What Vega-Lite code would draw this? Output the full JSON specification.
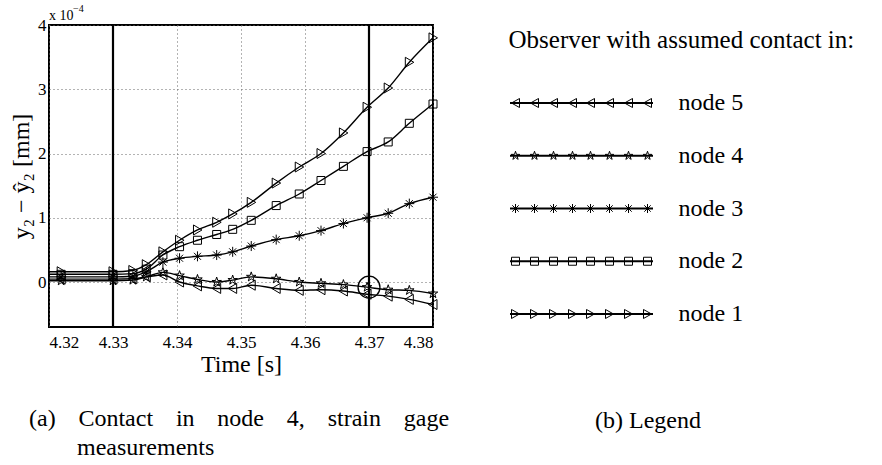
{
  "$schema": "https://vega.github.io/schema/vega-lite/v6.json",
  "background": "white",
  "padding": {"left": 8, "top": 3, "right": 0, "bottom": 0},
  "config": {
    "font": "Liberation Serif",
    "title": {"fontWeight": "normal", "color": "black"},
    "axis": {"labelColor": "black", "titleColor": "black", "titleFontWeight": "normal", "labelFont": "Liberation Serif", "titleFont": "Liberation Serif"}
  },
  "datasets": {
    "series": [
      {"node": "node 1", "t": 4.32, "v": 0.16}, {"node": "node 1", "t": 4.3219, "v": 0.16}, {"node": "node 1", "t": 4.33, "v": 0.16}, {"node": "node 1", "t": 4.3331, "v": 0.18}, {"node": "node 1", "t": 4.3352, "v": 0.27}, {"node": "node 1", "t": 4.3378, "v": 0.47}, {"node": "node 1", "t": 4.3404, "v": 0.65}, {"node": "node 1", "t": 4.3432, "v": 0.81}, {"node": "node 1", "t": 4.3462, "v": 0.93}, {"node": "node 1", "t": 4.3487, "v": 1.06}, {"node": "node 1", "t": 4.3516, "v": 1.24}, {"node": "node 1", "t": 4.3555, "v": 1.54}, {"node": "node 1", "t": 4.3591, "v": 1.79}, {"node": "node 1", "t": 4.3625, "v": 2.0}, {"node": "node 1", "t": 4.366, "v": 2.32}, {"node": "node 1", "t": 4.3697, "v": 2.72}, {"node": "node 1", "t": 4.373, "v": 3.02}, {"node": "node 1", "t": 4.3763, "v": 3.42}, {"node": "node 1", "t": 4.38, "v": 3.8},
      {"node": "node 2", "t": 4.32, "v": 0.12}, {"node": "node 2", "t": 4.3219, "v": 0.12}, {"node": "node 2", "t": 4.33, "v": 0.12}, {"node": "node 2", "t": 4.3331, "v": 0.13}, {"node": "node 2", "t": 4.3352, "v": 0.2}, {"node": "node 2", "t": 4.3378, "v": 0.42}, {"node": "node 2", "t": 4.3404, "v": 0.55}, {"node": "node 2", "t": 4.3432, "v": 0.65}, {"node": "node 2", "t": 4.3462, "v": 0.74}, {"node": "node 2", "t": 4.3487, "v": 0.82}, {"node": "node 2", "t": 4.3516, "v": 0.96}, {"node": "node 2", "t": 4.3555, "v": 1.19}, {"node": "node 2", "t": 4.3591, "v": 1.37}, {"node": "node 2", "t": 4.3625, "v": 1.58}, {"node": "node 2", "t": 4.366, "v": 1.8}, {"node": "node 2", "t": 4.3697, "v": 2.03}, {"node": "node 2", "t": 4.373, "v": 2.18}, {"node": "node 2", "t": 4.3763, "v": 2.47}, {"node": "node 2", "t": 4.38, "v": 2.77},
      {"node": "node 3", "t": 4.32, "v": 0.08}, {"node": "node 3", "t": 4.3219, "v": 0.08}, {"node": "node 3", "t": 4.33, "v": 0.08}, {"node": "node 3", "t": 4.3331, "v": 0.09}, {"node": "node 3", "t": 4.3352, "v": 0.16}, {"node": "node 3", "t": 4.3378, "v": 0.31}, {"node": "node 3", "t": 4.3404, "v": 0.37}, {"node": "node 3", "t": 4.3432, "v": 0.4}, {"node": "node 3", "t": 4.3462, "v": 0.42}, {"node": "node 3", "t": 4.3487, "v": 0.47}, {"node": "node 3", "t": 4.3516, "v": 0.56}, {"node": "node 3", "t": 4.3555, "v": 0.66}, {"node": "node 3", "t": 4.3591, "v": 0.72}, {"node": "node 3", "t": 4.3625, "v": 0.8}, {"node": "node 3", "t": 4.366, "v": 0.91}, {"node": "node 3", "t": 4.3697, "v": 1.0}, {"node": "node 3", "t": 4.373, "v": 1.07}, {"node": "node 3", "t": 4.3763, "v": 1.22}, {"node": "node 3", "t": 4.38, "v": 1.32},
      {"node": "node 4", "t": 4.32, "v": 0.02}, {"node": "node 4", "t": 4.3219, "v": 0.02}, {"node": "node 4", "t": 4.33, "v": 0.02}, {"node": "node 4", "t": 4.3331, "v": 0.03}, {"node": "node 4", "t": 4.3352, "v": 0.08}, {"node": "node 4", "t": 4.3378, "v": 0.15}, {"node": "node 4", "t": 4.3404, "v": 0.1}, {"node": "node 4", "t": 4.3432, "v": 0.04}, {"node": "node 4", "t": 4.3462, "v": 0.0}, {"node": "node 4", "t": 4.3487, "v": 0.03}, {"node": "node 4", "t": 4.3516, "v": 0.08}, {"node": "node 4", "t": 4.3555, "v": 0.05}, {"node": "node 4", "t": 4.3591, "v": 0.0}, {"node": "node 4", "t": 4.3625, "v": -0.02}, {"node": "node 4", "t": 4.366, "v": -0.04}, {"node": "node 4", "t": 4.3697, "v": -0.08}, {"node": "node 4", "t": 4.373, "v": -0.12}, {"node": "node 4", "t": 4.3763, "v": -0.13}, {"node": "node 4", "t": 4.38, "v": -0.18},
      {"node": "node 5", "t": 4.32, "v": 0.045}, {"node": "node 5", "t": 4.3219, "v": 0.045}, {"node": "node 5", "t": 4.33, "v": 0.045}, {"node": "node 5", "t": 4.3331, "v": 0.05}, {"node": "node 5", "t": 4.3352, "v": 0.08}, {"node": "node 5", "t": 4.3378, "v": 0.11}, {"node": "node 5", "t": 4.3404, "v": 0.0}, {"node": "node 5", "t": 4.3432, "v": -0.06}, {"node": "node 5", "t": 4.3462, "v": -0.1}, {"node": "node 5", "t": 4.3487, "v": -0.1}, {"node": "node 5", "t": 4.3516, "v": -0.05}, {"node": "node 5", "t": 4.3555, "v": -0.1}, {"node": "node 5", "t": 4.3591, "v": -0.13}, {"node": "node 5", "t": 4.3625, "v": -0.12}, {"node": "node 5", "t": 4.366, "v": -0.14}, {"node": "node 5", "t": 4.3697, "v": -0.19}, {"node": "node 5", "t": 4.373, "v": -0.22}, {"node": "node 5", "t": 4.3763, "v": -0.27}, {"node": "node 5", "t": 4.38, "v": -0.35}
    ],
    "events": [{"t": 4.33}, {"t": 4.37}],
    "mark_circle": [{"t": 4.37, "v": -0.08}],
    "legend_rows": [{"node": "node 5"}, {"node": "node 4"}, {"node": "node 3"}, {"node": "node 2"}, {"node": "node 1"}]
  },
  "spacing": 55,
  "resolve": {"scale": {"shape": "independent", "y": "independent"}, "legend": {"shape": "independent"}},
  "hconcat": [
    {
      "width": 384,
      "height": 302,
      "view": {"stroke": "black", "strokeWidth": 2},
      "title": {"text": ["(a)\u2002\u2005\u2009Contact\u2002\u2005\u2009in\u2002\u2005\u2009node\u2002\u2005\u20094,\u2002\u2005\u2009strain\u2002\u2005\u2009gage", "\u200b\u2002\u2002\u2002\u2002measurements"], "orient": "bottom", "anchor": "start", "frame": "group", "align": "left", "dx": -20, "offset": 31, "fontSize": 24, "lineHeight": 29, "font": "Liberation Serif"},
      "layer": [
        {
          "data": {"name": "events"},
          "mark": {"type": "rule", "color": "black", "strokeWidth": 2.2},
          "encoding": {
            "x": {"field": "t", "type": "quantitative", "scale": {"domain": [4.32, 4.38], "nice": false, "zero": false},
              "axis": {"values": [4.32, 4.33, 4.34, 4.35, 4.36, 4.37, 4.38], "format": ".2f", "title": "Time [s]", "grid": true, "gridDash": [1, 3], "gridColor": "#666", "gridWidth": 1, "domain": false, "ticks": false, "labelFontSize": 17, "labelPadding": 7, "titleFontSize": 24, "titlePadding": 2}}
          }
        },
        {
          "data": {"name": "series"},
          "mark": {"type": "line", "interpolate": "monotone", "color": "black", "strokeWidth": 1.4},
          "encoding": {
            "x": {"field": "t", "type": "quantitative"},
            "y": {"field": "v", "type": "quantitative", "scale": {"domain": [-0.7, 4], "nice": false, "zero": false},
              "axis": {"values": [0, 1, 2, 3, 4], "format": "d", "title": "y\u2082 \u2212 \u0177\u2082 [mm]", "grid": true, "gridDash": [1, 3], "gridColor": "#666", "gridWidth": 1, "domain": false, "ticks": false, "labelFontSize": 17, "labelPadding": 3, "titleFontSize": 24, "titlePadding": 4}},
            "detail": {"field": "node", "type": "nominal"}
          }
        },
        {
          "data": {"name": "series"},
          "transform": [{"filter": "datum.t > 4.321"}],
          "mark": {"type": "point", "filled": false, "color": "black", "strokeWidth": 1, "size": 4, "opacity": 1},
          "encoding": {
            "x": {"field": "t", "type": "quantitative"},
            "y": {"field": "v", "type": "quantitative"},
            "shape": {"field": "node", "type": "nominal", "legend": null,
              "scale": {"domain": ["node 1", "node 2", "node 3", "node 4", "node 5"],
                "range": ["M-4,-5L4.5,0L-4,5Z", "M-4,-4h8v8h-8Z", "M-5,0h10M0,-5v10M-3.5,-3.5l7,7M-3.5,3.5l7,-7", "M0,-5l1.12,3.46l3.63,0l-2.94,2.13l1.13,3.46l-2.94,-2.13l-2.94,2.13l1.13,-3.46l-2.94,-2.13l3.63,0z", "M4,-5L-4.5,0L4,5Z"]}}
          }
        },
        {
          "data": {"name": "mark_circle"},
          "mark": {"type": "point", "shape": "circle", "size": 480, "filled": false, "color": "black", "strokeWidth": 1.3, "opacity": 1},
          "encoding": {"x": {"field": "t", "type": "quantitative"}, "y": {"field": "v", "type": "quantitative"}}
        },
        {
          "data": {"values": [{"label": "x 10"}]},
          "mark": {"type": "text", "align": "left", "baseline": "alphabetic", "dy": -5, "fontSize": 14, "font": "Liberation Serif", "color": "black"},
          "encoding": {"text": {"field": "label"}, "x": {"datum": 4.32, "type": "quantitative"}, "y": {"datum": 4, "type": "quantitative"}}
        },
        {
          "data": {"values": [{"label": "\u22124"}]},
          "mark": {"type": "text", "align": "left", "baseline": "alphabetic", "dx": 24, "dy": -13, "fontSize": 10, "font": "Liberation Serif", "color": "black"},
          "encoding": {"text": {"field": "label"}, "x": {"datum": 4.32, "type": "quantitative"}, "y": {"datum": 4, "type": "quantitative"}}
        }
      ]
    },
    {
      "width": 143,
      "height": 367,
      "view": {"stroke": null},
      "data": {"name": "legend_rows"},
      "title": {"text": "(b) Legend", "orient": "bottom", "anchor": "start", "frame": "group", "align": "left", "dx": 85, "offset": 17, "fontSize": 24, "font": "Liberation Serif"},
      "encoding": {
        "y": {"field": "node", "type": "nominal", "sort": ["node 5", "node 4", "node 3", "node 2", "node 1"],
          "scale": {"type": "band", "paddingInner": 0, "paddingOuter": 0.9787},
          "axis": {"orient": "right", "domain": false, "ticks": false, "grid": false, "labelFontSize": 24, "labelPadding": 25, "labelAlign": "left", "labelBaseline": "middle",
            "title": "Observer with assumed contact in:", "titleAngle": 0, "titleX": -145, "titleY": 14, "titleAlign": "left", "titleBaseline": "middle", "titleFontSize": 25}}
      },
      "layer": [
        {
          "mark": {"type": "point", "shape": "M-71.5,0H71.5", "size": 4, "filled": false, "color": "black", "strokeWidth": 1.8, "opacity": 1}
        },
        {
          "mark": {"type": "point", "size": 4, "filled": false, "color": "black", "strokeWidth": 1, "opacity": 1},
          "encoding": {
            "shape": {"field": "node", "type": "nominal", "legend": null,
              "scale": {"domain": ["node 1", "node 2", "node 3", "node 4", "node 5"],
                "range": [
                  "M-70,-4.5L-62,0L-70,4.5ZM-51,-4.5L-43,0L-51,4.5ZM-32,-4.5L-24,0L-32,4.5ZM-13,-4.5L-5,0L-13,4.5ZM5,-4.5L13,0L5,4.5ZM24,-4.5L32,0L24,4.5ZM43,-4.5L51,0L43,4.5ZM62,-4.5L70,0L62,4.5Z",
                  "M-70,-4h8v8h-8ZM-51,-4h8v8h-8ZM-32,-4h8v8h-8ZM-13,-4h8v8h-8ZM5,-4h8v8h-8ZM24,-4h8v8h-8ZM43,-4h8v8h-8ZM62,-4h8v8h-8Z",
                  "M-70.5,0h9M-66,-4.5v9M-69.2,-3.2l6.4,6.4M-69.2,3.2l6.4,-6.4M-51.5,0h9M-47,-4.5v9M-50.2,-3.2l6.4,6.4M-50.2,3.2l6.4,-6.4M-32.5,0h9M-28,-4.5v9M-31.2,-3.2l6.4,6.4M-31.2,3.2l6.4,-6.4M-13.5,0h9M-9,-4.5v9M-12.2,-3.2l6.4,6.4M-12.2,3.2l6.4,-6.4M4.5,0h9M9,-4.5v9M5.8,-3.2l6.4,6.4M5.8,3.2l6.4,-6.4M23.5,0h9M28,-4.5v9M24.8,-3.2l6.4,6.4M24.8,3.2l6.4,-6.4M42.5,0h9M47,-4.5v9M43.8,-3.2l6.4,6.4M43.8,3.2l6.4,-6.4M61.5,0h9M66,-4.5v9M62.8,-3.2l6.4,6.4M62.8,3.2l6.4,-6.4",
                  "M-66,-4.5l1.01,3.11l3.27,0l-2.65,1.92l1.02,3.11l-2.65,-1.92l-2.65,1.92l1.02,-3.11l-2.65,-1.92l3.27,0zM-47,-4.5l1.01,3.11l3.27,0l-2.65,1.92l1.02,3.11l-2.65,-1.92l-2.65,1.92l1.02,-3.11l-2.65,-1.92l3.27,0zM-28,-4.5l1.01,3.11l3.27,0l-2.65,1.92l1.02,3.11l-2.65,-1.92l-2.65,1.92l1.02,-3.11l-2.65,-1.92l3.27,0zM-9,-4.5l1.01,3.11l3.27,0l-2.65,1.92l1.02,3.11l-2.65,-1.92l-2.65,1.92l1.02,-3.11l-2.65,-1.92l3.27,0zM9,-4.5l1.01,3.11l3.27,0l-2.65,1.92l1.02,3.11l-2.65,-1.92l-2.65,1.92l1.02,-3.11l-2.65,-1.92l3.27,0zM28,-4.5l1.01,3.11l3.27,0l-2.65,1.92l1.02,3.11l-2.65,-1.92l-2.65,1.92l1.02,-3.11l-2.65,-1.92l3.27,0zM47,-4.5l1.01,3.11l3.27,0l-2.65,1.92l1.02,3.11l-2.65,-1.92l-2.65,1.92l1.02,-3.11l-2.65,-1.92l3.27,0zM66,-4.5l1.01,3.11l3.27,0l-2.65,1.92l1.02,3.11l-2.65,-1.92l-2.65,1.92l1.02,-3.11l-2.65,-1.92l3.27,0z",
                  "M-62,-4.5L-70,0L-62,4.5ZM-43,-4.5L-51,0L-43,4.5ZM-24,-4.5L-32,0L-24,4.5ZM-5,-4.5L-13,0L-5,4.5ZM13,-4.5L5,0L13,4.5ZM32,-4.5L24,0L32,4.5ZM51,-4.5L43,0L51,4.5ZM70,-4.5L62,0L70,4.5Z"
                ]}}
          }
        }
      ]
    }
  ]
}
